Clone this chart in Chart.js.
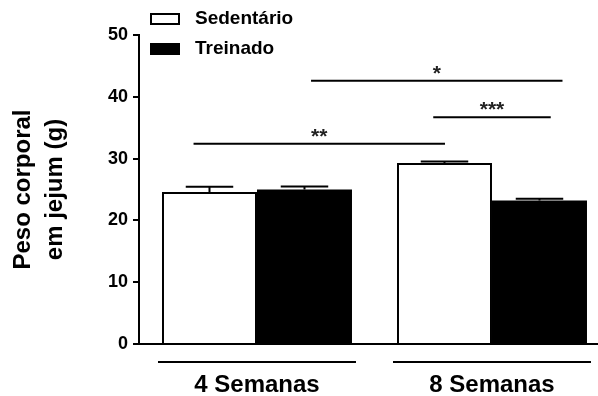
<!DOCTYPE html>
<html>
<head>
<meta charset="utf-8">
<script src="https://cdn.jsdelivr.net/npm/chart.js@4.4.1/dist/chart.umd.min.js"></script>
<style>
  html, body { margin: 0; padding: 0; background: #fff; }
</style>
</head>
<body>
<canvas id="chart" width="598" height="396"></canvas>
<script>
// ---- data ----
const groups = ['4 Semanas', '8 Semanas'];
const groupPos = [1, 2];
const sedentario = [24.6, 29.3];
const sedentarioSem = [0.85, 0.25];
const treinado = [25.0, 23.2];
const treinadoSem = [0.5, 0.3];
const yTicks = [0, 10, 20, 30, 40, 50];

// significance brackets (x in group units, y in grams)
const sigFrom = [0.73, 1.23, 1.75];
const sigTo = [1.8, 2.3, 2.25];
const sigY = [32.4, 42.6, 36.7];
const sigLabels = ['**', '*', '***'];

const FONT = "'Liberation Sans', Arial, sans-serif";
const catPct = 0.8085;

Chart.defaults.font.family = FONT;
Chart.defaults.color = '#000';

// error bars, brackets, group underlines and legend
const extras = {
    id: 'extras',
    afterDatasetsDraw(chart) {
        const { ctx, scales: { x, y }, chartArea } = chart;
        ctx.save();
        ctx.strokeStyle = '#000';
        ctx.lineWidth = 2;

        // upper SEM only
        chart.data.datasets.forEach((ds, di) => {
            const meta = chart.getDatasetMeta(di);
            meta.data.forEach((bar, i) => {
                const top = y.getPixelForValue(ds.data[i].y + ds.sem[i]);
                const half = bar.width / 4;
                ctx.beginPath();
                ctx.moveTo(bar.x, bar.y);
                ctx.lineTo(bar.x, top);
                ctx.moveTo(bar.x - half, top);
                ctx.lineTo(bar.x + half, top);
                ctx.stroke();
            });
        });

        // lines under each group
        const slot = x.getPixelForValue(1.5) - x.getPixelForValue(1);
        const uy = chartArea.bottom + 18;
        groupPos.forEach(g => {
            const cx = x.getPixelForValue(g);
            const half = slot * catPct + 4;
            ctx.beginPath();
            ctx.moveTo(cx - half, uy);
            ctx.lineTo(cx + half, uy);
            ctx.stroke();
        });

        // significance
        ctx.fillStyle = '#222';
        ctx.font = 'bold 21px ' + FONT;
        ctx.textAlign = 'center';
        ctx.textBaseline = 'alphabetic';
        sigLabels.forEach((lab, k) => {
            const x1 = x.getPixelForValue(sigFrom[k]);
            const x2 = x.getPixelForValue(sigTo[k]);
            const py = y.getPixelForValue(sigY[k]);
            ctx.beginPath();
            ctx.moveTo(x1, py);
            ctx.lineTo(x2, py);
            ctx.stroke();
            ctx.fillText(lab, (x1 + x2) / 2, py - 1);
        });

        // legend
        ctx.font = 'bold 19px ' + FONT;
        ctx.textAlign = 'left';
        ctx.textBaseline = 'middle';
        chart.data.datasets.forEach((ds, i) => {
            const bx = 150, by = 13 + i * 30;
            ctx.fillStyle = ds.backgroundColor;
            ctx.fillRect(bx, by, 30, 12);
            ctx.strokeRect(bx + 1, by + 1, 28, 10);
            ctx.fillStyle = '#000';
            ctx.fillText(ds.label, 195, by + 6);
        });
        ctx.restore();
    }
};

const ctx = document.getElementById('chart').getContext('2d');

new Chart(ctx, {
    type: 'bar',
    data: {
        datasets: [
            {
                label: 'Sedentário',
                data: groupPos.map((g, i) => ({ x: g, y: sedentario[i] })),
                sem: sedentarioSem,
                backgroundColor: '#ffffff',
                borderColor: '#000000',
                borderWidth: 2,
                borderSkipped: 'bottom'
            },
            {
                label: 'Treinado',
                data: groupPos.map((g, i) => ({ x: g, y: treinado[i] })),
                sem: treinadoSem,
                backgroundColor: '#000000',
                borderWidth: 0
            }
        ]
    },
    options: {
        responsive: false,
        animation: false,
        categoryPercentage: catPct,
        barPercentage: 1,
        layout: { padding: { top: 35, left: 0, right: 0, bottom: 0 } },
        plugins: {
            legend: { display: false },
            tooltip: { enabled: false }
        },
        scales: {
            x: {
                type: 'linear',
                offset: false,
                min: 0.4979,
                max: 2.4511,
                grid: { display: false, drawTicks: false },
                border: { display: true, color: '#000', width: 2 },
                afterBuildTicks: s => { s.ticks = groupPos.map(v => ({ value: v })); },
                afterFit: s => { s.height = 52; },
                ticks: {
                    padding: 27,
                    font: { size: 24, weight: 'bold' },
                    color: '#000',
                    callback: (v, i) => groups[i]
                }
            },
            y: {
                min: 0,
                max: 50,
                afterBuildTicks: s => { s.ticks = yTicks.map(v => ({ value: v })); },
                afterFit: s => { s.width = 139; },
                grid: {
                    drawOnChartArea: false,
                    drawTicks: true,
                    tickLength: 6,
                    tickColor: '#000',
                    tickWidth: 2,
                    color: '#000',
                    lineWidth: 2
                },
                border: { display: true, color: '#000', width: 2 },
                ticks: {
                    padding: 5,
                    font: { size: 18, weight: 'bold' },
                    color: '#000'
                },
                title: {
                    display: true,
                    text: ['Peso corporal', 'em jejum (g)'],
                    font: { size: 24, weight: 'bold', lineHeight: 1.35 },
                    color: '#000',
                    padding: { top: 7, bottom: 0 }
                }
            }
        }
    },
    plugins: [extras]
});
</script>
</body>
</html>
